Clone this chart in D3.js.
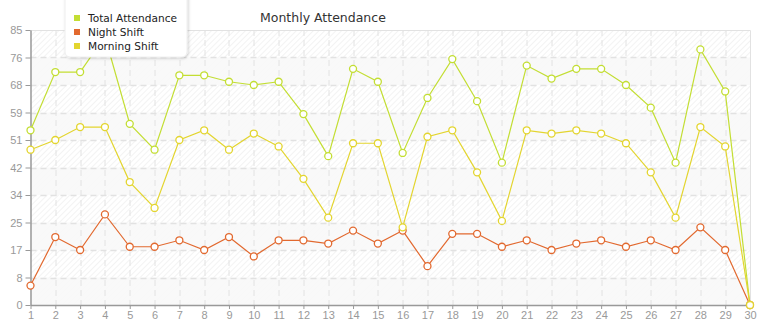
<!DOCTYPE html>
<html>
<head>
<meta charset="utf-8">
<script src="https://cdn.jsdelivr.net/npm/d3@7"></script>
<style>
  body { margin: 0; background: #fff; }
  svg { display: block; font-family: "DejaVu Sans", Verdana, sans-serif; }
  .axis path, .axis line { stroke: #999; }
  .axis text { fill: #999; font-size: 11px; }
</style>
</head>
<body>
<div id="chart"></div>
<script>
// data
var days = d3.range(1, 31);
var totalAttendance = [54, 72, 72, 83, 56, 48, 71, 71, 69, 68, 69, 59, 46, 73, 69, 47, 64, 76, 63, 44, 74, 70, 73, 73, 68, 61, 44, 79, 66, 0];
var nightShift = [6, 21, 17, 28, 18, 18, 20, 17, 21, 15, 20, 20, 19, 23, 19, 23, 12, 22, 22, 18, 20, 17, 19, 20, 18, 20, 17, 24, 17, 0];
var morningShift = [48, 51, 55, 55, 38, 30, 51, 54, 48, 53, 49, 39, 27, 50, 50, 24, 52, 54, 41, 26, 54, 53, 54, 53, 50, 41, 27, 55, 49, 0];
var yTicks = d3.range(0, 11).map(function (i) { return i * 8.5; });

var seriesNames = ["Total Attendance", "Night Shift", "Morning Shift"];
var seriesColors = ["#c3de33", "#e2692f", "#e3d52f"];
var seriesValues = [totalAttendance, nightShift, morningShift];

var width = 765, height = 320;
var margin = { top: 30, right: 15, bottom: 15, left: 30.5 };
var plotW = width - margin.left - margin.right;
var plotH = height - margin.top - margin.bottom;

var svg = d3.select("#chart").append("svg")
    .attr("width", width)
    .attr("height", height);

var defs = svg.append("defs");
var pat = defs.append("pattern")
    .attr("id", "hatch")
    .attr("patternUnits", "userSpaceOnUse")
    .attr("width", 4)
    .attr("height", 4)
    .attr("patternTransform", "rotate(45)");
pat.append("rect").attr("width", 4).attr("height", 4).attr("fill", "#fff");
pat.append("line")
    .attr("x1", 0).attr("y1", 0).attr("x2", 0).attr("y2", 4)
    .attr("stroke", "#ebebeb").attr("stroke-width", 1.2);

var shadow = defs.append("filter").attr("id", "shadow")
    .attr("x", "-20%").attr("y", "-20%").attr("width", "140%").attr("height", "150%");
shadow.append("feDropShadow")
    .attr("dx", 1).attr("dy", 1).attr("stdDeviation", 1.5)
    .attr("flood-color", "#000").attr("flood-opacity", 0.18);

var x = d3.scaleLinear().domain([1, 30]).range([0, plotW]);
var y = d3.scaleLinear().domain([0, 85]).range([plotH, 0]);

var g = svg.append("g")
    .attr("transform", "translate(" + margin.left + "," + margin.top + ")");

// background bands
g.append("rect")
    .attr("width", plotW).attr("height", plotH)
    .attr("fill", "url(#hatch)");
g.selectAll(".band")
    .data(yTicks.slice(0, -1).filter(function (d, i) { return i % 2 === 0; }))
    .enter().append("rect")
    .attr("class", "band")
    .attr("x", 0)
    .attr("width", plotW)
    .attr("y", function (d) { return y(d + 8.5); })
    .attr("height", function (d) { return y(d) - y(d + 8.5); })
    .attr("fill", "#f8f8f8")
    .attr("fill-opacity", 0.9);

// grid
g.selectAll(".vgrid")
    .data(days.slice(1, -1))
    .enter().append("line")
    .attr("class", "vgrid")
    .attr("x1", function (d) { return Math.round(x(d)) + 0.5; })
    .attr("x2", function (d) { return Math.round(x(d)) + 0.5; })
    .attr("y1", 0).attr("y2", plotH)
    .attr("stroke", "#e2e2e2").attr("stroke-dasharray", "6,4");
g.selectAll(".hgrid")
    .data(yTicks.slice(1, -1))
    .enter().append("line")
    .attr("class", "hgrid")
    .attr("y1", function (d) { return Math.round(y(d)) + 0.5; })
    .attr("y2", function (d) { return Math.round(y(d)) + 0.5; })
    .attr("x1", 0).attr("x2", plotW)
    .attr("stroke", "#e2e2e2").attr("stroke-width", 1.5).attr("stroke-dasharray", "6,4");

// plot border top/right
g.append("path")
    .attr("d", "M0,0.5H" + (plotW + 0.5) + "V" + plotH)
    .attr("fill", "none").attr("stroke", "#e2e2e2");

// axes
var xAxis = d3.axisBottom(x).tickValues(days).tickFormat(d3.format("d")).tickSize(4).tickSizeOuter(0);
var yAxis = d3.axisLeft(y).tickValues(yTicks)
    .tickFormat(function (d) { return Math.floor(d + 1e-9); })
    .tickSize(5).tickSizeOuter(0);

g.append("g")
    .attr("class", "axis axis--x")
    .attr("transform", "translate(0," + plotH + ")")
    .call(xAxis)
    .call(function (s) { s.select(".domain").attr("stroke-width", 1.5); })
    .selectAll("text").attr("dy", "0.6em");

g.append("g")
    .attr("class", "axis axis--y")
    .call(yAxis)
    .call(function (s) {
        s.select(".domain").attr("stroke-width", 1.5);
        s.selectAll(".tick line").attr("stroke", "#999");
    })
    .selectAll("text").attr("x", -8);

// lines and markers
var line = d3.line()
    .x(function (d, i) { return x(days[i]); })
    .y(function (d) { return y(d); });

seriesValues.forEach(function (vals, k) {
    g.append("path")
        .datum(vals)
        .attr("fill", "none")
        .attr("stroke", seriesColors[k])
        .attr("stroke-width", 1.2)
        .attr("d", line);
});
seriesValues.forEach(function (vals, k) {
    g.append("g").selectAll("circle")
        .data(vals).enter()
        .append("circle")
        .attr("cx", function (d, i) { return x(days[i]); })
        .attr("cy", function (d) { return y(d); })
        .attr("r", 3.5)
        .attr("fill", "#fff")
        .attr("stroke", seriesColors[k])
        .attr("stroke-width", 1.3);
});

// title
svg.append("text")
    .attr("x", 260)
    .attr("y", 22)
    .attr("fill", "#333")
    .style("font-size", "12.5px")
    .text("Monthly Attendance");

// legend
var legend = svg.append("g").attr("transform", "translate(65,0)");
legend.append("rect")
    .attr("x", 0).attr("y", -8)
    .attr("width", 122).attr("height", 65)
    .attr("rx", 5)
    .attr("fill", "#fff")
    .attr("stroke", "#eee")
    .attr("filter", "url(#shadow)");
var items = legend.selectAll(".legend")
    .data(seriesNames).enter()
    .append("g")
    .attr("class", "legend")
    .attr("transform", function (d, i) { return "translate(0," + (18 + i * 14) + ")"; });
items.append("rect")
    .attr("x", 9).attr("y", -3)
    .attr("width", 6).attr("height", 6)
    .attr("fill", function (d, i) { return seriesColors[i]; });
items.append("text")
    .attr("x", 23)
    .attr("dy", "0.35em")
    .attr("fill", "#222")
    .style("font-size", "10.6px")
    .text(function (d) { return d; });
</script>
</body>
</html>
